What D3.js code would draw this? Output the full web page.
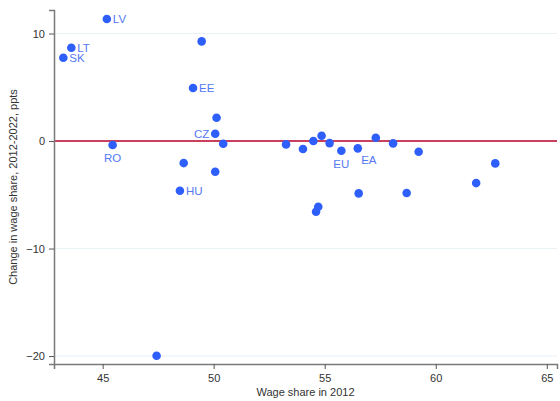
<!DOCTYPE html>
<html>
<head>
<meta charset="utf-8">
<script src="https://cdn.jsdelivr.net/npm/d3@7"></script>
<style>
  html, body { margin: 0; padding: 0; background: #fff; }
  svg { display: block; font-family: "Liberation Sans", Arial, sans-serif; }
</style>
</head>
<body>
<svg id="chart" width="560" height="401"></svg>
<script>
// Data
const labels = ["LV","LT","SK","","EE","","CZ","","RO","","","HU",
                "","","","","","EU","EA","","","","","","","","","",""];
const wageShare2012 = [45.19,43.59,43.23,49.46,49.07,50.13,50.07,50.43,45.45,48.65,50.07,48.48,
                       53.26,54.02,54.49,54.86,55.22,55.75,56.49,57.30,58.08,59.23,62.68,61.82,58.69,54.71,54.61,56.53,47.43];
const changeWageShare = [11.35,8.68,7.75,9.27,4.93,2.17,0.68,-0.25,-0.37,-2.05,-2.86,-4.62,
                         -0.31,-0.74,0.0,0.49,-0.19,-0.90,-0.68,0.31,-0.22,-0.99,-2.08,-3.91,-4.84,-6.11,-6.58,-4.87,-19.97];
const labelPos = {LV:"right",LT:"right",SK:"right",EE:"right",HU:"right",CZ:"left",RO:"below",EU:"below",EA:"belowright"};
const xTicks = [45,50,55,60,65];
const yTicks = [-20,-10,0,10];
const gridTicks = [-20,-10,10];

const W = 560, H = 401;
const margin = {top: 10, right: 3, bottom: 37, left: 54};
const svg = d3.select("#chart");

const x = d3.scaleLinear().domain([42.81, 65.46]).range([margin.left, W - margin.right]);
const y = d3.scaleLinear().domain([-20.74, 12.19]).range([H - margin.bottom, margin.top]);

// gridlines
svg.append("g").selectAll("line").data(gridTicks).join("line")
  .attr("x1", margin.left).attr("x2", W - margin.right)
  .attr("y1", d => y(d)).attr("y2", d => y(d))
  .attr("stroke", "#eaf1f4").attr("stroke-width", 1);

// zero line
svg.append("line")
  .attr("x1", margin.left).attr("x2", W - margin.right)
  .attr("y1", y(0)).attr("y2", y(0))
  .attr("stroke", "#c9405e").attr("stroke-width", 2);

// axes
const xAxis = svg.append("g")
  .attr("transform", `translate(0,${H - margin.bottom})`)
  .call(d3.axisBottom(x).tickValues(xTicks).tickSize(5).tickPadding(5).tickFormat(d3.format("d")));
const yAxis = svg.append("g")
  .attr("transform", `translate(${margin.left},0)`)
  .call(d3.axisLeft(y).tickValues(yTicks).tickSize(5).tickPadding(4).tickFormat(d3.format("d")));
[xAxis, yAxis].forEach(g => {
  g.select(".domain").attr("stroke", "#7a7a7a").attr("stroke-width", 1.5);
  g.selectAll(".tick line").attr("stroke", "#555");
  g.selectAll(".tick text").attr("fill", "#333").attr("font-size", 11)
    .attr("font-family", "'Liberation Sans', Arial, sans-serif");
});

// axis titles
svg.append("text")
  .attr("x", (margin.left + W - margin.right) / 2).attr("y", 396)
  .attr("text-anchor", "middle").attr("font-size", 11).attr("fill", "#333")
  .text("Wage share in 2012");
svg.append("text")
  .attr("transform", `translate(17,${(margin.top + H - margin.bottom) / 2}) rotate(-90)`)
  .attr("text-anchor", "middle").attr("font-size", 11).attr("fill", "#333")
  .text("Change in wage share, 2012-2022, ppts");

// points
const data = wageShare2012.map((v, i) => ({x: v, y: changeWageShare[i], label: labels[i]}));
svg.append("g").selectAll("circle").data(data).join("circle")
  .attr("cx", d => x(d.x)).attr("cy", d => y(d.y)).attr("r", 4.3)
  .attr("fill", "#2f5ffb");

// labels
svg.append("g").selectAll("text").data(data.filter(d => d.label)).join("text")
  .attr("font-size", 11.5).attr("fill", "#5578f2")
  .attr("x", d => {
    const p = labelPos[d.label];
    if (p === "right") return x(d.x) + 6;
    if (p === "left") return x(d.x) - 6;
    if (p === "belowright") return x(d.x) + 11;
    return x(d.x);
  })
  .attr("y", d => {
    const p = labelPos[d.label];
    if (p === "below") return y(d.y) + 17;
    if (p === "belowright") return y(d.y) + 16;
    return y(d.y) + 4;
  })
  .attr("text-anchor", d => {
    const p = labelPos[d.label];
    if (p === "right") return "start";
    if (p === "left") return "end";
    return "middle";
  })
  .text(d => d.label);
</script>
</body>
</html>
